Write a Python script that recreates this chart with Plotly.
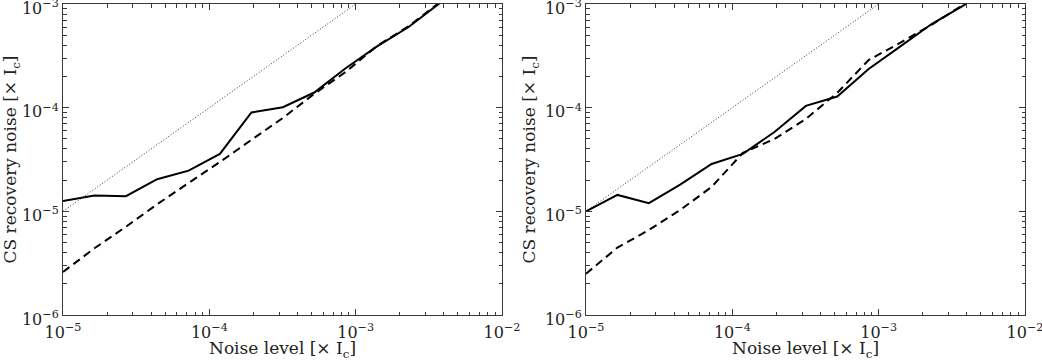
import plotly.graph_objects as go
from plotly.subplots import make_subplots

# noise levels (x) shared by both panels
noise = [1.0e-5, 1.64e-5, 2.69e-5, 4.40e-5, 7.22e-5, 1.18e-4, 1.94e-4,
         3.18e-4, 5.21e-4, 8.54e-4, 1.40e-3, 2.30e-3, 3.76e-3, 6.2e-3]

# left panel
left_solid = [1.26e-5, 1.42e-5, 1.40e-5, 2.04e-5, 2.47e-5, 3.58e-5, 9.0e-5,
              1.01e-4, 1.40e-4, 2.40e-4, 3.9e-4, 6.0e-4, 1.02e-3, 1.6e-3]
left_dash = [2.6e-6, 4.4e-6, 7.1e-6, 1.17e-5, 1.88e-5, 2.99e-5, 4.89e-5,
             7.96e-5, 1.36e-4, 2.21e-4, 3.94e-4, 6.1e-4, 1.04e-3, 1.65e-3]

# right panel
right_solid = [1.0e-5, 1.44e-5, 1.20e-5, 1.81e-5, 2.86e-5, 3.58e-5, 5.83e-5,
               1.04e-4, 1.28e-4, 2.36e-4, 3.88e-4, 6.41e-4, 9.6e-4, 1.55e-3]
right_dash = [2.5e-6, 4.47e-6, 6.6e-6, 1.03e-5, 1.72e-5, 3.66e-5, 4.99e-5,
              7.78e-5, 1.39e-4, 2.88e-4, 4.21e-4, 6.3e-4, 9.8e-4, 1.6e-3]

# reference y = x
ref_x = [1e-5, 1e-3]
ref_y = [1e-5, 1e-3]

xticks = [1e-5, 1e-4, 1e-3, 1e-2]
xticktext = ["10<sup>\u22125</sup>", "10<sup>\u22124</sup>", "10<sup>\u22123</sup>", "10<sup>\u22122</sup>"]
yticks = [1e-6, 1e-5, 1e-4, 1e-3]
yticktext = ["10<sup>\u22126</sup>", "10<sup>\u22125</sup>", "10<sup>\u22124</sup>", "10<sup>\u22123</sup>"]

minor_x = [m * 10.0 ** e for e in range(-5, -2) for m in range(2, 10)]
minor_y = [m * 10.0 ** e for e in range(-6, -3) for m in range(2, 10)]

FONT = "DejaVu Serif"
AX = "#3a3a3a"
TXT = "#222"

fig = make_subplots(rows=1, cols=2)

panels = [(left_solid, left_dash), (right_solid, right_dash)]
for i, (solid, dash) in enumerate(panels, start=1):
    fig.add_trace(go.Scatter(x=ref_x, y=ref_y, mode="lines",
                             line=dict(color="#333", width=1, dash="1px,2px"),
                             showlegend=False), row=1, col=i)
    fig.add_trace(go.Scatter(x=noise, y=dash, mode="lines",
                             line=dict(color="black", width=2, dash="8px,5px"),
                             showlegend=False), row=1, col=i)
    fig.add_trace(go.Scatter(x=noise, y=solid, mode="lines",
                             line=dict(color="black", width=2),
                             showlegend=False), row=1, col=i)

axis_common = dict(
    type="log", showgrid=False, zeroline=False,
    showline=True, linecolor=AX, linewidth=1, mirror="ticks",
    ticks="inside", ticklen=6, tickwidth=1, tickcolor=AX,
    tickfont=dict(family=FONT, size=16, color=TXT),
    ticklabeloverflow="allow",
    automargin=False,
)

xdomains = [[63 / 1042, 502 / 1042], [586 / 1042, 1025 / 1042]]
for i in (1, 2):
    fig.update_xaxes(
        axis_common, row=1, col=i,
        range=[-5, -2], domain=xdomains[i - 1],
        tickvals=xticks, ticktext=xticktext, ticklabelstandoff=3,
        minor=dict(tickvals=minor_x, ticks="inside", ticklen=3.5, tickcolor=AX),
    )
    fig.update_yaxes(
        axis_common, row=1, col=i,
        range=[-6, -3], domain=[45 / 360, 356 / 360],
        tickvals=yticks, ticktext=yticktext, ticklabelshift=4,
        minor=dict(tickvals=minor_y, ticks="inside", ticklen=3.5, tickcolor=AX),
        title=dict(text="CS recovery noise [\u00d7 I<sub>c</sub>]",
                   font=dict(family=FONT, size=17, color=TXT), standoff=4),
    )
    # x title placed by hand, a little lower than plotly's default spot
    d = xdomains[i - 1]
    fig.add_annotation(text="Noise level [\u00d7 I<sub>c</sub>]",
                       xref="paper", yref="paper", x=(d[0] + d[1]) / 2, y=11 / 360,
                       xanchor="center", yanchor="middle", showarrow=False,
                       font=dict(family=FONT, size=17, color=TXT))

fig.update_layout(
    width=1042, height=360,
    margin=dict(l=0, r=0, t=0, b=0),
    paper_bgcolor="white", plot_bgcolor="white",
    font=dict(family=FONT, color=TXT),
)

# drop the browser's default body margin so the figure sits at the window corner
fig.write_html("out.html", config={"displayModeBar": False},
               post_script="document.body.style.margin='0';")
